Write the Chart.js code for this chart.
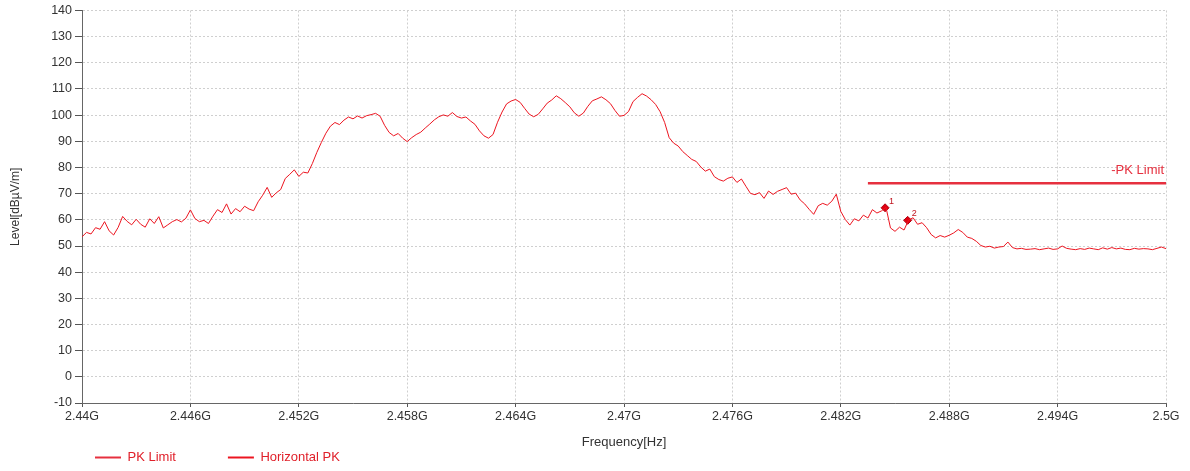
<!DOCTYPE html>
<html>
<head>
<meta charset="utf-8">
<script src="https://cdn.jsdelivr.net/npm/chart.js@4/dist/chart.umd.min.js"></script>
<style>
  html, body { margin: 0; padding: 0; background: #fff; }
  #wrap { width: 1190px; height: 471px; position: relative; }
</style>
</head>
<body>
<div id="wrap"><canvas id="chart"></canvas></div>
<script>
// sweep: 2440 MHz .. 2500 MHz, 0.25 MHz per point
const sweepStartMHz = 2440;
const sweepStepMHz = 0.25;

// Horizontal PK trace, dBuV/m (one row = 3 MHz)
const horizontalPK = [
  53.5, 55.2, 54.6, 57.0, 56.4, 59.3, 55.8, 54.2, 57.1, 61.3, 59.4, 58.1,
  60.2, 58.3, 57.2, 60.4, 58.6, 61.2, 56.9, 58.1, 59.3, 60.1, 59.2, 60.6,
  63.8, 60.5, 59.3, 59.8, 58.6, 61.4, 63.9, 62.8, 66.1, 62.2, 64.3, 63.1,
  65.2, 64.1, 63.5, 66.9, 69.4, 72.4, 68.6, 70.3, 71.6, 75.8, 77.4, 79.1,
  76.6, 78.2, 77.9, 81.5, 85.8, 89.6, 93.1, 95.8, 97.2, 96.4, 98.1, 99.3,
  98.6, 99.7, 98.9, 99.8, 100.2, 100.7, 99.6, 96.1, 93.4, 92.1, 93.0, 91.2,
  89.9, 91.4, 92.6, 93.5, 95.1, 96.6, 98.2, 99.4, 100.1, 99.6, 101.0, 99.5,
  98.9, 99.3, 97.8, 96.5, 94.0, 92.1, 91.2, 92.6, 97.3, 101.2, 104.3, 105.4,
  106.0, 104.9, 102.6, 100.4, 99.4, 100.3, 102.4, 104.6, 105.8, 107.4, 106.3, 104.8,
  103.2, 100.9, 99.6, 100.8, 103.4, 105.5, 106.2, 107.0, 105.9, 104.4, 101.8, 99.6,
  99.9, 101.4, 105.2, 106.8, 108.2, 107.3, 105.9, 104.1, 101.3, 97.2, 91.4, 89.3,
  88.2, 86.1, 84.6, 83.1, 82.3, 80.2, 78.6, 79.4, 76.5, 75.4, 74.8, 75.9,
  76.4, 74.3, 75.6, 72.8, 70.1, 69.6, 70.4, 68.2, 71.0, 69.7, 70.9, 71.6,
  72.3, 69.8, 70.2, 67.6, 66.1, 64.0, 62.1, 65.4, 66.3, 65.6, 67.1, 69.8,
  63.2, 60.1, 58.0, 60.4, 59.6, 61.8, 60.7, 63.9, 62.6, 63.4, 64.8, 56.9,
  55.6, 57.2, 56.1, 59.9, 60.8, 58.3, 58.9, 57.0, 54.4, 53.1, 54.0, 53.4,
  54.1, 55.0, 56.3, 55.2, 53.4, 52.9, 51.8, 50.2, 49.6, 49.9, 49.2, 49.6,
  49.8, 51.5, 49.4, 48.9, 49.1, 48.7, 48.8, 49.0, 48.6, 48.9, 49.2, 48.7,
  48.9, 50.0, 49.1, 48.8, 48.6, 49.0, 48.7, 49.2, 48.9, 48.6, 49.3, 48.8,
  49.4, 48.9, 49.2, 48.7, 48.6, 49.1, 48.8, 49.0, 48.9, 48.6, 49.1, 49.6,
  49.0
];

// PK limit line
const limitFreq = [2483.5, 2500];
const limitLevel = [74, 74];

// markers
const markerFreq = [2484.45, 2485.7];
const markerLevel = [64.6, 59.8];
const markerNames = ['1', '2'];

// axis ticks
const xTicksMHz = [2440, 2446, 2452, 2458, 2464, 2470, 2476, 2482, 2488, 2494, 2500];
const yMin = -10, yMax = 140, yStep = 10;

const RED = '#ec1520';
const LIMIT_RED = '#e6303f';
const FONT = 'Liberation Sans, Arial, sans-serif';

const tracePoints = horizontalPK.map((v, i) => ({ x: sweepStartMHz + i * sweepStepMHz, y: v }));
const limitPoints = limitFreq.map((f, i) => ({ x: f, y: limitLevel[i] }));
const markerPoints = markerFreq.map((f, i) => ({ x: f, y: markerLevel[i] }));

const fmtG = v => parseFloat((v / 1000).toFixed(3)) + 'G';

const overlay = {
  id: 'overlay',
  afterLayout(chart) {
    // legend sits under the axis title, starting near the plot's left edge
    const lg = chart.legend;
    if (lg) { lg.left = 43; lg.top = 399; }
  },
  afterDatasetsDraw(chart) {
    const { ctx, scales: { x, y } } = chart;
    ctx.save();
    // marker numbers
    ctx.fillStyle = '#c0141e';
    ctx.font = '9px ' + FONT;
    ctx.textBaseline = 'bottom';
    markerFreq.forEach((f, i) => {
      ctx.fillText(markerNames[i], x.getPixelForValue(f) + 4, y.getPixelForValue(markerLevel[i]) - 2);
    });
    // limit label
    ctx.fillStyle = LIMIT_RED;
    ctx.font = '13px ' + FONT;
    ctx.textAlign = 'right';
    ctx.textBaseline = 'bottom';
    ctx.fillText('-PK Limit', x.getPixelForValue(limitFreq[1]) - 2, y.getPixelForValue(limitLevel[1]) - 6);
    ctx.restore();
  }
};

const baseLabels = Chart.defaults.plugins.legend.labels.generateLabels;

new Chart(document.getElementById('chart'), {
  type: 'scatter',
  data: {
    datasets: [
      {
        label: 'PK Limit',
        data: limitPoints,
        showLine: true,
        borderColor: LIMIT_RED,
        backgroundColor: LIMIT_RED,
        borderWidth: 2.5,
        pointRadius: 0
      },
      {
        label: 'Horizontal PK',
        data: tracePoints,
        showLine: true,
        borderColor: RED,
        backgroundColor: RED,
        borderWidth: 1,
        pointRadius: 0
      },
      {
        label: 'markers',
        data: markerPoints,
        showLine: false,
        pointStyle: 'rectRot',
        pointRadius: 4,
        backgroundColor: '#e00010',
        borderColor: '#b00010',
        borderWidth: 1
      }
    ]
  },
  options: {
    responsive: true,
    maintainAspectRatio: false,
    animation: false,
    layout: { padding: { top: 10, right: 24, bottom: 0, left: 0 } },
    plugins: {
      tooltip: { enabled: false },
      legend: {
        position: 'bottom',
        align: 'start',
        maxHeight: 20,
        labels: {
          generateLabels: chart => baseLabels(chart)
            .filter(item => item.text !== 'markers')
            .map(item => Object.assign(item, { lineWidth: 0, strokeStyle: 'rgba(0,0,0,0)' })),
          boxWidth: 26,
          boxHeight: 2,
          padding: 52,
          color: '#e0202a',
          font: { family: FONT, size: 13 }
        }
      }
    },
    scales: {
      x: {
        type: 'linear',
        min: 2440,
        max: 2500,
        afterBuildTicks: s => { s.ticks = xTicksMHz.map(v => ({ value: v })); },
        afterFit: s => { s.height = 48; },
        ticks: {
          callback: v => fmtG(v),
          color: '#333',
          font: { family: FONT, size: 12.5 },
          padding: 2,
          maxRotation: 0,
          autoSkip: false
        },
        grid: { color: '#cfcfcf', tickColor: '#555', tickLength: 4 },
        border: { color: '#666', width: 1, dash: [2, 2] },
        title: {
          display: true,
          text: 'Frequency[Hz]',
          color: '#333',
          font: { family: FONT, size: 13 },
          padding: { top: 4, bottom: 1 }
        }
      },
      y: {
        min: yMin,
        max: yMax,
        afterFit: s => { s.width = 82; },
        ticks: {
          stepSize: yStep,
          color: '#333',
          font: { family: FONT, size: 12.5 },
          padding: 3
        },
        grid: { color: '#cfcfcf', tickColor: '#555', tickLength: 7 },
        border: { color: '#666', width: 1, dash: [2, 2] },
        title: {
          display: true,
          text: 'Level[dB\u00b5V/m]',
          color: '#333',
          font: { family: FONT, size: 12 },
          padding: { top: 8, bottom: 0 }
        }
      }
    }
  },
  plugins: [overlay]
});
</script>
</body>
</html>
